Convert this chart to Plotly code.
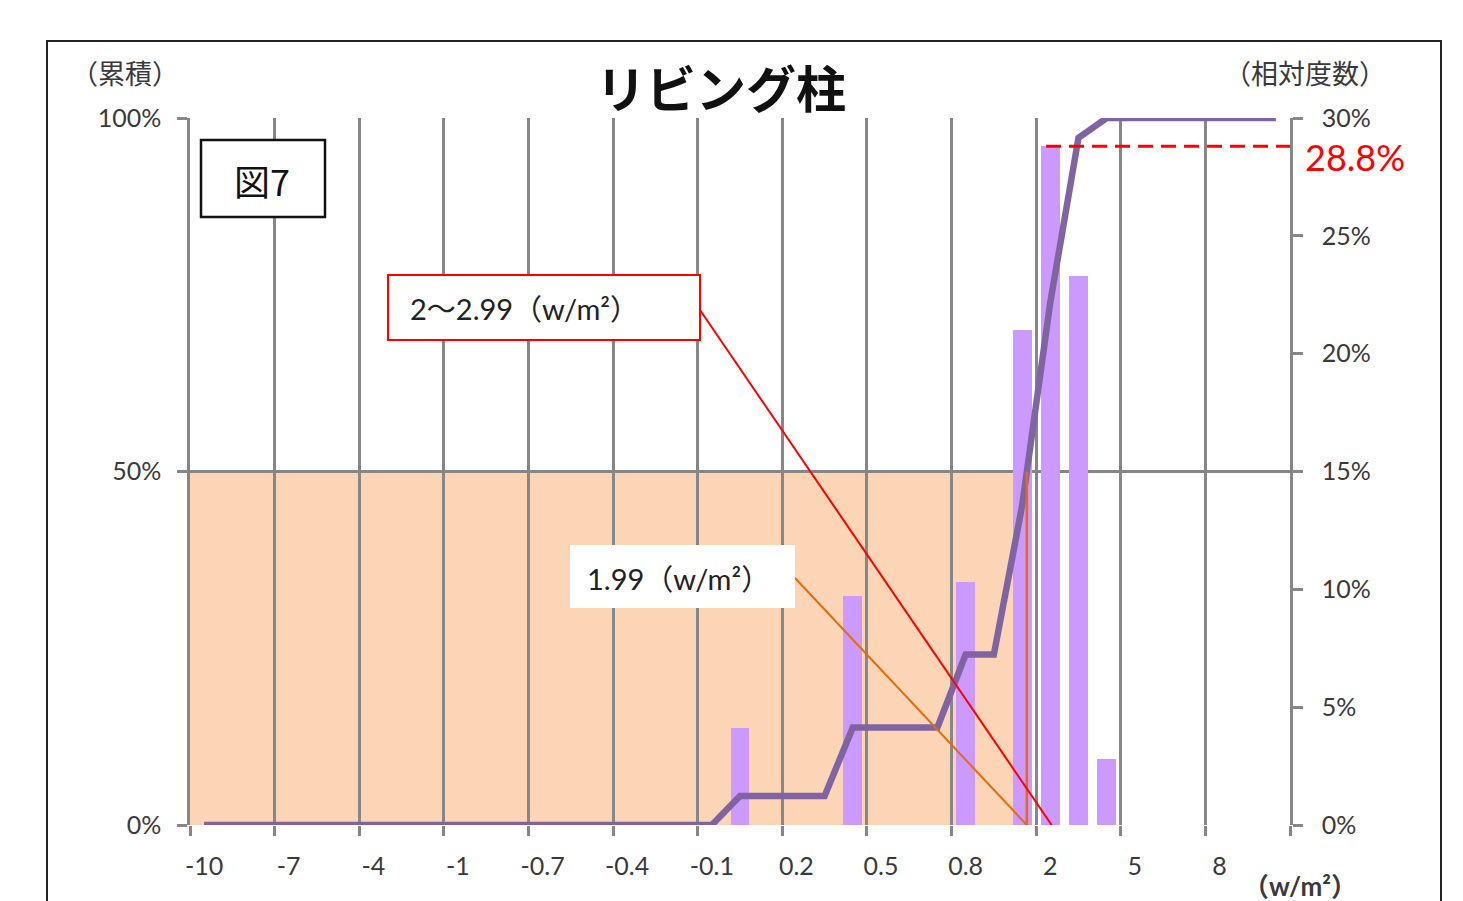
import numpy as np
import plotly.graph_objects as go

# Class values (w/m²), one category per bin
categories = ["-10", "-9", "-8", "-7", "-6", "-5", "-4", "-3", "-2", "-1",
              "-0.9", "-0.8", "-0.7", "-0.6", "-0.5", "-0.4", "-0.3", "-0.2", "-0.1",
              "0", "0.1", "0.2", "0.3", "0.4", "0.5", "0.6", "0.7", "0.8", "0.9",
              "1", "2", "3", "4", "5", "6", "7", "8", "9", "10"]

# Relative frequency (%) per category
rel_freq = [0, 0, 0, 0, 0, 0, 0, 0, 0, 0,
            0, 0, 0, 0, 0, 0, 0, 0, 0,
            4.1, 0, 0, 0, 9.7, 0, 0, 0, 10.3, 0,
            21.0, 28.8, 23.3, 2.8, 0, 0, 0, 0, 0, 0]

# Axis labels
x_tick_labels = ["-10", "-7", "-4", "-1", "-0.7", "-0.4", "-0.1",
                 "0.2", "0.5", "0.8", "2", "5", "8"]
cum_ticks = [0, 50, 100]
freq_ticks = [0, 5, 10, 15, 20, 25, 30]

peak_value = 28.8

n = len(categories)
idx = np.arange(n)
cumulative = np.cumsum(rel_freq)
FREQ_MAX, CUM_MAX = 30, 100

# position where the cumulative curve reaches 50 %
k = int(np.argmax(cumulative >= 50))
median_x = (k - 1) + (50 - cumulative[k - 1]) / (cumulative[k] - cumulative[k - 1])

GRID = "#878787"
TXT = "#3a3a3a"
NUM_FONT = "Lato, Noto Sans CJK JP, sans-serif"
JP_FONT = "Noto Sans CJK JP, sans-serif"

fig = go.Figure()

# relative frequency bars (main subplot, right-hand axis)
fig.add_trace(go.Bar(
    x=idx, y=rel_freq, xaxis="x", yaxis="y",
    marker=dict(color="#CC99FF", line=dict(width=0)),
    width=0.67, showlegend=False, hoverinfo="skip"))

# cumulative curve (overlay, left-hand axis) drawn above the bars
fig.add_trace(go.Scatter(
    x=idx, y=cumulative, xaxis="x", yaxis="y2", mode="lines",
    line=dict(color="#8064A2", width=6.5), showlegend=False, hoverinfo="skip"))

# carrier for the category label axis (not visible)
fig.add_trace(go.Scatter(
    x=idx, y=cumulative, xaxis="x2", yaxis="y2", mode="lines",
    line=dict(width=0), opacity=0, showlegend=False, hoverinfo="skip"))

L, R, T, B = 190, 173, 118, 76
W, H = 1463, 901
pw, ph = W - L - R, H - T - B


def px(xp):
    return (xp - L) / pw


def py(yp):
    return (H - B - yp) / ph


def dx(xp):
    return (xp - L) / pw * n - 0.5


def dy(yp):
    return (H - B - yp) / ph * CUM_MAX


shapes = [
    # area up to the median
    dict(type="rect", xref="x", yref="y", x0=-0.5, x1=median_x, y0=0, y1=50 * FREQ_MAX / CUM_MAX,
         fillcolor="#FBD5B5", line=dict(width=0), layer="below"),
    dict(type="line", xref="x", yref="y2", x0=median_x, x1=median_x, y0=0, y1=50,
         line=dict(color="#E46C0A", width=2.5)),
    # peak level
    dict(type="line", xref="x", yref="y", x0=29.85, x1=38.5, y0=peak_value, y1=peak_value,
         line=dict(color="#FF0000", width=3, dash="15px,8px")),
    # leader lines
    dict(type="line", xref="x", yref="y2", x0=dx(700), y0=dy(310), x1=30.05, y1=0,
         line=dict(color="#FF0000", width=2)),
    dict(type="line", xref="x", yref="y2", x0=dx(795), y0=dy(578), x1=median_x, y1=0,
         line=dict(color="#E46C0A", width=2)),
    # label boxes
    dict(type="rect", xref="paper", yref="paper", x0=px(388), x1=px(700), y0=py(340), y1=py(275),
         fillcolor="white", line=dict(color="#FF0000", width=2)),
    dict(type="rect", xref="paper", yref="paper", x0=px(570), x1=px(795), y0=py(608), y1=py(545),
         fillcolor="white", line=dict(width=0)),
    dict(type="rect", xref="paper", yref="paper", x0=px(201), x1=px(325), y0=py(217), y1=py(140),
         fillcolor="white", line=dict(color="#111111", width=2.5)),
    # outer frame
    dict(type="rect", xref="paper", yref="paper", x0=px(47), x1=px(1441), y0=py(930), y1=py(41),
         fillcolor="rgba(0,0,0,0)", line=dict(color="#222222", width=2)),
]

annotations = [
    dict(text="<b>リビング柱</b>", x=px(721), y=py(86), font=dict(size=50, color="#111", family=JP_FONT)),
    dict(text="（累積）", x=px(125), y=py(73), font=dict(size=27, color=TXT, family=JP_FONT)),
    dict(text="（相対度数）", x=px(1305), y=py(73), font=dict(size=27, color=TXT, family=JP_FONT)),
    dict(text=f"{peak_value}%", x=px(1355), y=py(157), font=dict(size=36, color="#FF0000", family=NUM_FONT)),
    dict(text="<b>（w/m²）</b>", x=px(1300), y=py(886), font=dict(size=26, color=TXT, family=NUM_FONT)),
    dict(text="2〜2.99（w/m²）", x=px(524), y=py(308), font=dict(size=29, color="#222", family=NUM_FONT)),
    dict(text="1.99（w/m²）", x=px(678), y=py(578), font=dict(size=29, color="#222", family=NUM_FONT)),
    dict(text="図7", x=px(262), y=py(180), font=dict(size=36, color="#111", family=JP_FONT)),
]
for a in annotations:
    a.update(xref="paper", yref="paper", showarrow=False, xanchor="center", yanchor="middle")

boundaries = list(np.arange(-0.5, n, 3))

fig.update_layout(
    width=W, height=H,
    margin=dict(l=L, r=R, t=T, b=B),
    paper_bgcolor="white", plot_bgcolor="white",
    bargap=0,
    xaxis=dict(range=[-0.5, n - 0.5], tickvals=boundaries, ticktext=[""] * len(boundaries),
               ticks="outside", ticklen=10, tickwidth=2.5, tickcolor=GRID,
               showgrid=True, gridcolor=GRID, gridwidth=2.5, zeroline=False, showline=False,
               fixedrange=True),
    xaxis2=dict(range=[-0.5, n - 0.5], overlaying="x", side="bottom", anchor="y",
                tickvals=list(range(0, n, 3)), ticktext=x_tick_labels,
                ticks="", showgrid=False, zeroline=False, showline=False,
                ticklabelstandoff=24,
                tickfont=dict(size=25, color=TXT, family=NUM_FONT)),
    yaxis=dict(range=[0, FREQ_MAX], side="right", anchor="x",
               tickvals=freq_ticks, ticktext=[f"{v}%" for v in freq_ticks],
               ticks="outside", ticklen=10, tickwidth=2.5, tickcolor=GRID,
               showgrid=False, zeroline=False, showline=True, linecolor=GRID, linewidth=2.5,
               ticklabelstandoff=14,
               tickfont=dict(size=25, color=TXT, family=NUM_FONT)),
    yaxis2=dict(range=[0, CUM_MAX], overlaying="y", side="left", anchor="x",
                tickvals=cum_ticks, ticktext=[f"{v}%" for v in cum_ticks],
                ticks="outside", ticklen=10, tickwidth=2.5, tickcolor=GRID,
                showgrid=True, gridcolor=GRID, gridwidth=2.5, zeroline=False,
                showline=True, linecolor=GRID, linewidth=2.5,
                ticklabelstandoff=11,
                tickfont=dict(size=25, color=TXT, family=NUM_FONT)),
    shapes=shapes,
    annotations=annotations,
)

fig.write_html("out.html")
